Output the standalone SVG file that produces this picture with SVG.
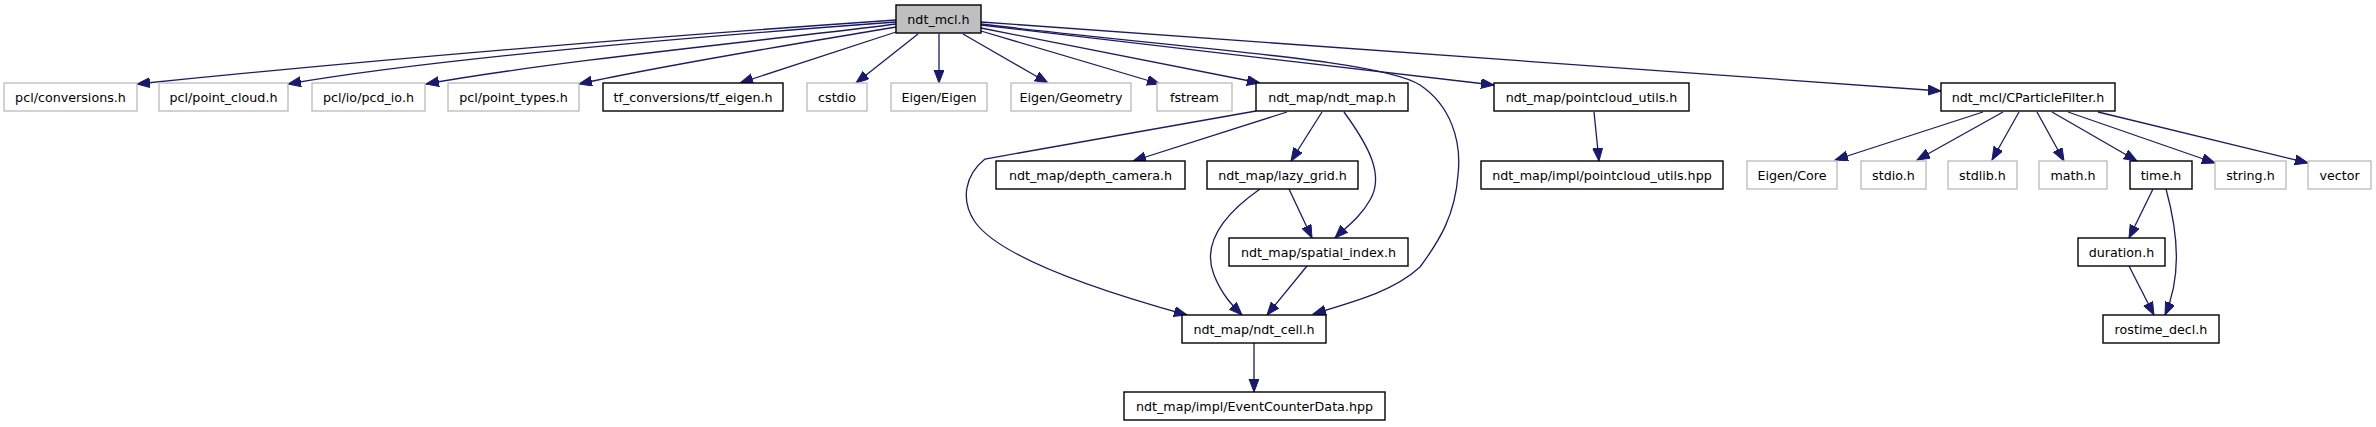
<svg xmlns="http://www.w3.org/2000/svg" width="2376" height="427" viewBox="0 0 2376 427">
<style>
  .n rect { fill: #ffffff; stroke: #000000; stroke-width: 1.4; }
  .g rect { fill: #ffffff; stroke: #bfbfbf; stroke-width: 1.4; }
  .root rect { fill: #bfbfbf; stroke: #000000; stroke-width: 1.4; }
  text { font-family: "DejaVu Sans", "Noto Sans", sans-serif; font-size: 12.7px; fill: #000000; text-anchor: middle; }
  .e path { fill: none; stroke: #191970; stroke-width: 1.3; marker-end: url(#ah); }
</style>
<defs>
  <marker id="ah" markerUnits="userSpaceOnUse" markerWidth="14" markerHeight="11" refX="13" refY="5" orient="auto">
    <path d="M0,0 L13,5 L0,10 z" fill="#191970" stroke="#191970" stroke-width="1"/>
  </marker>
</defs>
<rect width="2376" height="427" fill="#ffffff"/>
<g id="connectors" class="e">
  <path d="M896,20 C750,30 450,52 137,84"/>
  <path d="M896,22 C760,32 450,56 288,84"/>
  <path d="M896,24 C790,38 560,60 426,84"/>
  <path d="M896,27 C820,40 680,62 579,84"/>
  <path d="M896,32 L740,83"/>
  <path d="M918,34 L856,83"/>
  <path d="M939,34 L939,83"/>
  <path d="M963,34 L1048,83"/>
  <path d="M981,31 L1160,84"/>
  <path d="M981,28 L1260,83"/>
  <path d="M981,25 L1494,85"/>
  <path d="M981,22 L1941,91"/>
  <path d="M981,24 C1200,50 1380,60 1420,85 C1450,105 1462,140 1458,175 C1455,215 1440,240 1420,267 C1395,290 1360,300 1313,314"/>
  <path d="M1256,111 L985,159 C965,175 960,200 975,222 C995,250 1060,280 1187,315"/>
  <path d="M1287,112 L1133,161"/>
  <path d="M1322,112 L1291,161"/>
  <path d="M1344,112 C1368,145 1385,175 1370,200 C1360,218 1345,228 1335,238"/>
  <path d="M1289,189 L1312,238"/>
  <path d="M1260,189 C1230,210 1200,240 1214,275 C1222,295 1232,305 1242,315"/>
  <path d="M1307,266 L1267,315"/>
  <path d="M1254,343 L1254,392"/>
  <path d="M1594,112 L1599,161"/>
  <path d="M1983,112 L1835,160"/>
  <path d="M2003,112 L1917,160"/>
  <path d="M2019,112 L1992,160"/>
  <path d="M2037,112 L2064,161"/>
  <path d="M2052,112 L2137,161"/>
  <path d="M2068,112 L2215,163"/>
  <path d="M2098,112 L2308,163"/>
  <path d="M2153,189 L2129,238"/>
  <path d="M2166,189 C2180,240 2180,280 2165,315"/>
  <path d="M2129,266 L2154,315"/>
</g>
<g id="n_ndt_mcl" class="root"><rect x="896" y="5" width="85" height="28"/><text x="938.5" y="23.7">ndt_mcl.h</text></g>
<g id="n_conversions" class="g"><rect x="4" y="83" width="133" height="28"/><text x="70.5" y="101.7">pcl/conversions.h</text></g>
<g id="n_point_cloud" class="g"><rect x="159" y="83" width="129" height="28"/><text x="223.5" y="101.7">pcl/point_cloud.h</text></g>
<g id="n_pcd_io" class="g"><rect x="312" y="83" width="113" height="28"/><text x="368.5" y="101.7">pcl/io/pcd_io.h</text></g>
<g id="n_point_types" class="g"><rect x="448" y="83" width="131" height="28"/><text x="513.5" y="101.7">pcl/point_types.h</text></g>
<g id="n_tf_eigen" class="n"><rect x="603" y="83" width="180" height="28"/><text x="693" y="101.7">tf_conversions/tf_eigen.h</text></g>
<g id="n_cstdio" class="g"><rect x="807" y="83" width="60" height="28"/><text x="837" y="101.7">cstdio</text></g>
<g id="n_eigen_eigen" class="g"><rect x="891" y="83" width="96" height="28"/><text x="939" y="101.7">Eigen/Eigen</text></g>
<g id="n_eigen_geometry" class="g"><rect x="1011" y="83" width="120" height="28"/><text x="1071" y="101.7">Eigen/Geometry</text></g>
<g id="n_fstream" class="g"><rect x="1157" y="83" width="75" height="28"/><text x="1194.5" y="101.7">fstream</text></g>
<g id="n_ndt_map" class="n"><rect x="1256" y="83" width="152" height="28"/><text x="1332" y="101.7">ndt_map/ndt_map.h</text></g>
<g id="n_pointcloud_utils_h" class="n"><rect x="1494" y="83" width="195" height="28"/><text x="1591.5" y="101.7">ndt_map/pointcloud_utils.h</text></g>
<g id="n_cparticlefilter" class="n"><rect x="1941" y="83" width="174" height="28"/><text x="2028" y="101.7">ndt_mcl/CParticleFilter.h</text></g>
<g id="n_depth_camera" class="n"><rect x="996" y="161" width="189" height="28"/><text x="1090.5" y="179.7">ndt_map/depth_camera.h</text></g>
<g id="n_lazy_grid" class="n"><rect x="1207" y="161" width="151" height="28"/><text x="1282.5" y="179.7">ndt_map/lazy_grid.h</text></g>
<g id="n_pointcloud_utils_hpp" class="n"><rect x="1481" y="161" width="242" height="28"/><text x="1602" y="179.7">ndt_map/impl/pointcloud_utils.hpp</text></g>
<g id="n_eigen_core" class="g"><rect x="1747" y="161" width="90" height="28"/><text x="1792" y="179.7">Eigen/Core</text></g>
<g id="n_stdio" class="g"><rect x="1861" y="161" width="65" height="28"/><text x="1893.5" y="179.7">stdio.h</text></g>
<g id="n_stdlib" class="g"><rect x="1948" y="161" width="69" height="28"/><text x="1982.5" y="179.7">stdlib.h</text></g>
<g id="n_math" class="g"><rect x="2039" y="161" width="68" height="28"/><text x="2073" y="179.7">math.h</text></g>
<g id="n_time" class="n"><rect x="2130" y="161" width="62" height="28"/><text x="2161" y="179.7">time.h</text></g>
<g id="n_string" class="g"><rect x="2215" y="161" width="71" height="28"/><text x="2250.5" y="179.7">string.h</text></g>
<g id="n_vector" class="g"><rect x="2308" y="161" width="63" height="28"/><text x="2339.5" y="179.7">vector</text></g>
<g id="n_spatial_index" class="n"><rect x="1229" y="238" width="179" height="28"/><text x="1318.5" y="256.7">ndt_map/spatial_index.h</text></g>
<g id="n_duration" class="n"><rect x="2078" y="238" width="87" height="28"/><text x="2121.5" y="256.7">duration.h</text></g>
<g id="n_ndt_cell" class="n"><rect x="1182" y="315" width="144" height="28"/><text x="1254" y="333.7">ndt_map/ndt_cell.h</text></g>
<g id="n_rostime_decl" class="n"><rect x="2103" y="315" width="116" height="28"/><text x="2161" y="333.7">rostime_decl.h</text></g>
<g id="n_eventcounterdata" class="n"><rect x="1124" y="392" width="261" height="28"/><text x="1254.5" y="410.7">ndt_map/impl/EventCounterData.hpp</text></g>
</svg>
